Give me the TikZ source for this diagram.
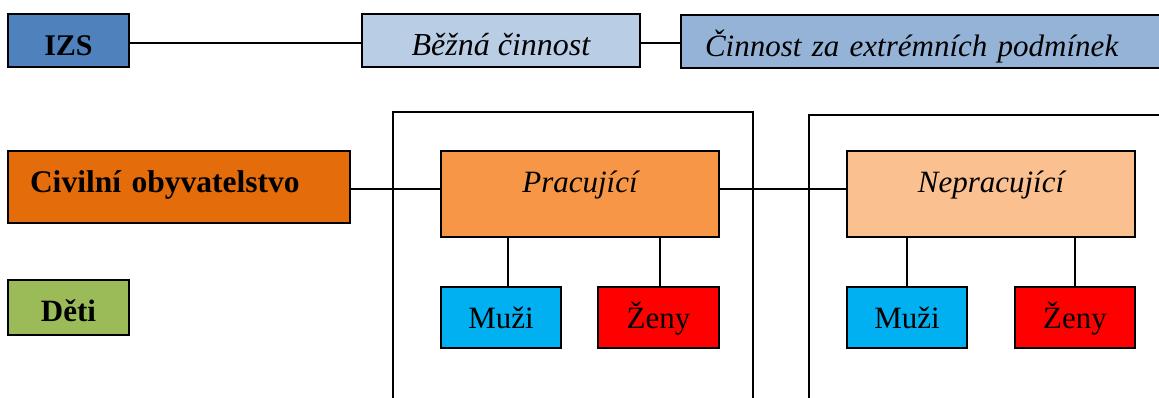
\documentclass[tikz,border=0pt]{standalone}
\usepackage{fontspec}
\setmainfont{Liberation Serif}
\usetikzlibrary{calc}

\definecolor{izsblue}{HTML}{4F81BD}
\definecolor{beznablue}{HTML}{B9CDE5}
\definecolor{extrblue}{HTML}{95B3D7}
\definecolor{civilorange}{HTML}{E46C0A}
\definecolor{pracorange}{HTML}{F79646}
\definecolor{nepracorange}{HTML}{FAC090}
\definecolor{detigreen}{HTML}{9BBB59}
\definecolor{muzicyan}{HTML}{00B0F0}
\definecolor{zenyred}{HTML}{FF0000}

\tikzset{
  box/.style={draw=black, line width=1.5pt, inner sep=0pt, anchor=base},
  toprow/.style={box, text height=41pt, text depth=12pt},
  midrow/.style={box, text height=41pt, text depth=45pt},
  sexbox/.style={box, minimum width=120pt, text height=41pt, text depth=20pt,
    font=\fontsize{31}{36}\selectfont},
  link/.style={black, line width=1.4pt},
  frame/.style={black, line width=2pt},
}

\begin{document}
\begin{tikzpicture}[x=1pt,y=-1pt]
\useasboundingbox (0,0) rectangle (1159,397);
\clip (0,0) rectangle (1159,397);

% group frames
\draw[frame] (393,410) -- (393,112) -- (753,112) -- (753,410);
\draw[frame] (809,410) -- (809,115) -- (1180,115);

% top row
\node[toprow, fill=izsblue, minimum width=121pt,
  font=\fontsize{30}{36}\selectfont\bfseries] (izs) at (68.5,55) {IZS};
\node[toprow, fill=beznablue, minimum width=278pt,
  font=\fontsize{32}{36}\selectfont\itshape] (bezna) at (501,55) {Běžná činnost};
\node[toprow, fill=extrblue, text width=519pt, align=left,
  font=\fontsize{31}{36}\selectfont\itshape] (extrem) at (940.5,56)
  {\hspace*{24pt}Činnost za extrémních podmínek};

% left column
\node[box, fill=civilorange, text width=342pt, align=left, text height=41pt, text depth=31pt,
  font=\fontsize{31.5}{36}\selectfont\bfseries] (civil) at (179,192)
  {\hspace*{22pt}Civilní obyvatelstvo};
\node[box, fill=detigreen, minimum width=121pt, text height=41pt, text depth=14pt,
  font=\fontsize{31}{36}\selectfont\bfseries] (deti) at (68.5,321) {Děti};

% working / not working
\node[midrow, fill=pracorange, minimum width=278pt,
  font=\fontsize{31}{36}\selectfont\itshape] (prac) at (580,192) {Pracující};
\node[midrow, fill=nepracorange, minimum width=288pt,
  font=\fontsize{31}{36}\selectfont\itshape] (neprac) at (991,192) {Nepracující};

\node[sexbox, fill=muzicyan] (pracmuzi) at (501,328) {Muži};
\node[sexbox, fill=zenyred, minimum width=121pt] (praczeny) at (658.5,328) {Ženy};
\node[sexbox, fill=muzicyan] (nepracmuzi) at (907,328) {Muži};
\node[sexbox, fill=zenyred] (nepraczeny) at (1075,328) {Ženy};

% connectors
\draw[link] ([yshift=-2.5pt]izs.east) -- ([yshift=-2.5pt]izs.east -| bezna.west);
\draw[link] ([yshift=-2.5pt]bezna.east) -- ([yshift=-2.5pt]bezna.east -| extrem.west);
\draw[link] ([yshift=-2pt]civil.east) -- ([yshift=-2pt]civil.east -| prac.west);
\draw[link] ([yshift=5pt]prac.east) -- ([yshift=5pt]prac.east -| neprac.west);
\draw[link] ([xshift=7pt]pracmuzi.north) -- ([xshift=7pt]pracmuzi.north |- prac.south);
\draw[link] ([xshift=1.5pt]praczeny.north) -- ([xshift=1.5pt]praczeny.north |- prac.south);
\draw[link] (nepracmuzi.north) -- (nepracmuzi.north |- neprac.south);
\draw[link] (nepraczeny.north) -- (nepraczeny.north |- neprac.south);

\end{tikzpicture}
\end{document}
